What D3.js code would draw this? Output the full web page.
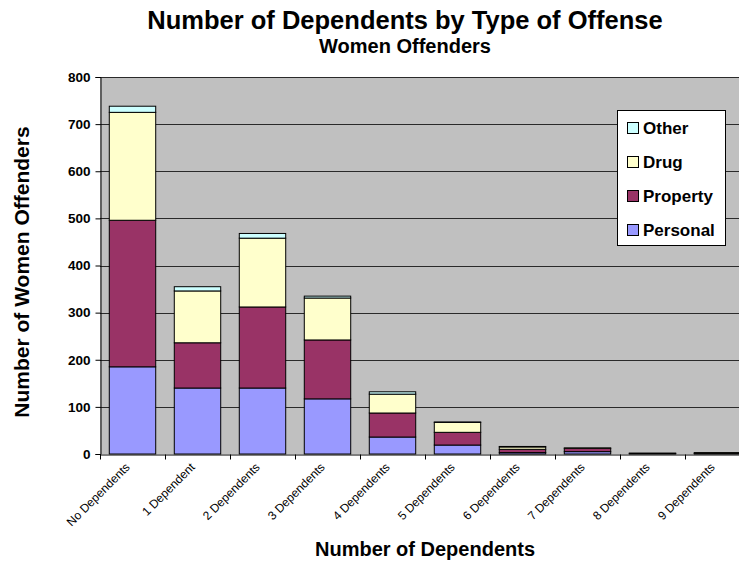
<!DOCTYPE html>
<html>
<head>
<meta charset="utf-8">
<script src="https://cdn.jsdelivr.net/npm/d3@7"></script>
<style>
  body { margin: 0; background: #fff; }
  svg { display: block; font-family: Arial, "Liberation Sans", sans-serif; }
</style>
</head>
<body>
<svg id="chart" width="739" height="563"></svg>
<script>
// categories and stacked series
const categories = ["No Dependents", "1 Dependent", "2 Dependents", "3 Dependents", "4 Dependents",
  "5 Dependents", "6 Dependents", "7 Dependents", "8 Dependents", "9 Dependents"];
const personal = [185, 140, 140, 117, 36, 19, 3, 5, 1, 1];
const property = [311, 96, 172, 125, 51, 27, 7, 7, 1, 1];
const drug     = [229, 110, 146, 89, 40, 21, 5, 1, 0, 1];
const other    = [13, 9, 10, 4, 5, 1, 1, 0, 0, 0];
const seriesNames = ["Personal", "Property", "Drug", "Other"];
const yTicks = [0, 100, 200, 300, 400, 500, 600, 700, 800];

const colors = { Personal: "#9999ff", Property: "#993366", Drug: "#ffffcc", Other: "#ccffff" };

const svg = d3.select("#chart");
const plotLeft = 100, plotRight = 750, plotTop = 77, plotBottom = 454;

const rows = categories.map((c, i) => ({
  cat: c, Personal: personal[i], Property: property[i], Drug: drug[i], Other: other[i]
}));
const stacked = d3.stack().keys(seriesNames)(rows);

// Excel style: gap width 40% of bar width
const x = d3.scaleBand().domain(categories).range([plotLeft, plotRight]).paddingInner(0.4 / 1.4).paddingOuter(0.2 / 1.4);
const y = d3.scaleLinear().domain([0, 800]).range([plotBottom, plotTop]);

// plot background
svg.append("rect")
  .attr("x", plotLeft).attr("y", plotTop)
  .attr("width", plotRight - plotLeft).attr("height", plotBottom - plotTop)
  .attr("fill", "#c0c0c0");

// gridlines
svg.append("g").selectAll("line")
  .data(yTicks.filter(d => d > 0))
  .join("line")
  .attr("x1", plotLeft).attr("x2", plotRight)
  .attr("y1", d => Math.round(y(d)) + 0.5).attr("y2", d => Math.round(y(d)) + 0.5)
  .attr("stroke", "#2a2a2a").attr("stroke-width", 1);

// bars
svg.append("g").selectAll("g")
  .data(stacked)
  .join("g")
  .attr("fill", d => colors[d.key])
  .selectAll("rect")
  .data(d => d)
  .join("rect")
  .attr("x", d => x(d.data.cat))
  .attr("y", d => y(d[1]))
  .attr("width", x.bandwidth())
  .attr("height", d => y(d[0]) - y(d[1]))
  .attr("stroke", "#000").attr("stroke-width", 1);

// y axis
const yAxis = svg.append("g")
  .attr("transform", `translate(${plotLeft + 0.5},0)`)
  .call(d3.axisLeft(y).tickValues(yTicks).tickSize(5).tickPadding(5));
yAxis.select(".domain").attr("stroke", "#000");
yAxis.selectAll("text").style("font-size", "13.5px").style("font-weight", "bold").attr("fill", "#000");

// x axis
const xAxis = svg.append("g")
  .attr("transform", `translate(0,${plotBottom + 0.5})`)
  .call(d3.axisBottom(x).tickSize(0).tickFormat(""));
xAxis.select(".domain").attr("stroke", "#000");
const tickPos = d3.range(categories.length + 1).map(i => plotLeft + i * x.step());
xAxis.append("g").selectAll("line")
  .data(tickPos)
  .join("line")
  .attr("x1", d => d + 0.5).attr("x2", d => d + 0.5)
  .attr("y1", 0).attr("y2", 5)
  .attr("stroke", "#000");

svg.append("g").selectAll("text")
  .data(categories)
  .join("text")
  .attr("transform", d => `translate(${x(d) + x.bandwidth() / 2 - 2},${plotBottom + 14}) rotate(-45)`)
  .attr("text-anchor", "end")
  .style("font-size", "12px")
  .text(d => d);

// titles
svg.append("text")
  .attr("x", 405).attr("y", 29)
  .attr("text-anchor", "middle")
  .style("font-size", "25.5px").style("font-weight", "bold")
  .text("Number of Dependents by Type of Offense");
svg.append("text")
  .attr("x", 405).attr("y", 53)
  .attr("text-anchor", "middle")
  .style("font-size", "20px").style("font-weight", "bold")
  .text("Women Offenders");
svg.append("text")
  .attr("x", 425).attr("y", 556)
  .attr("text-anchor", "middle")
  .style("font-size", "20px").style("font-weight", "bold")
  .text("Number of Dependents");
svg.append("text")
  .attr("transform", "translate(29,272) rotate(-90)")
  .attr("text-anchor", "middle")
  .style("font-size", "21px").style("font-weight", "bold")
  .text("Number of Women Offenders");

// legend
const legendKeys = ["Other", "Drug", "Property", "Personal"];
const legend = svg.append("g").attr("transform", "translate(617,110)");
legend.append("rect")
  .attr("x", 0.5).attr("y", 0.5).attr("width", 108).attr("height", 135)
  .attr("fill", "#fff").attr("stroke", "#000");
const items = legend.selectAll(".legend-item")
  .data(legendKeys)
  .join("g")
  .attr("class", "legend-item")
  .attr("transform", (d, i) => `translate(0,${18 + i * 34})`);
items.append("rect")
  .attr("x", 10.5).attr("y", -5.5).attr("width", 11).attr("height", 11)
  .attr("fill", d => colors[d]).attr("stroke", "#000");
items.append("text")
  .attr("x", 26).attr("y", 0).attr("dy", "0.35em")
  .style("font-size", "17px").style("font-weight", "bold")
  .text(d => d);
</script>
</body>
</html>
